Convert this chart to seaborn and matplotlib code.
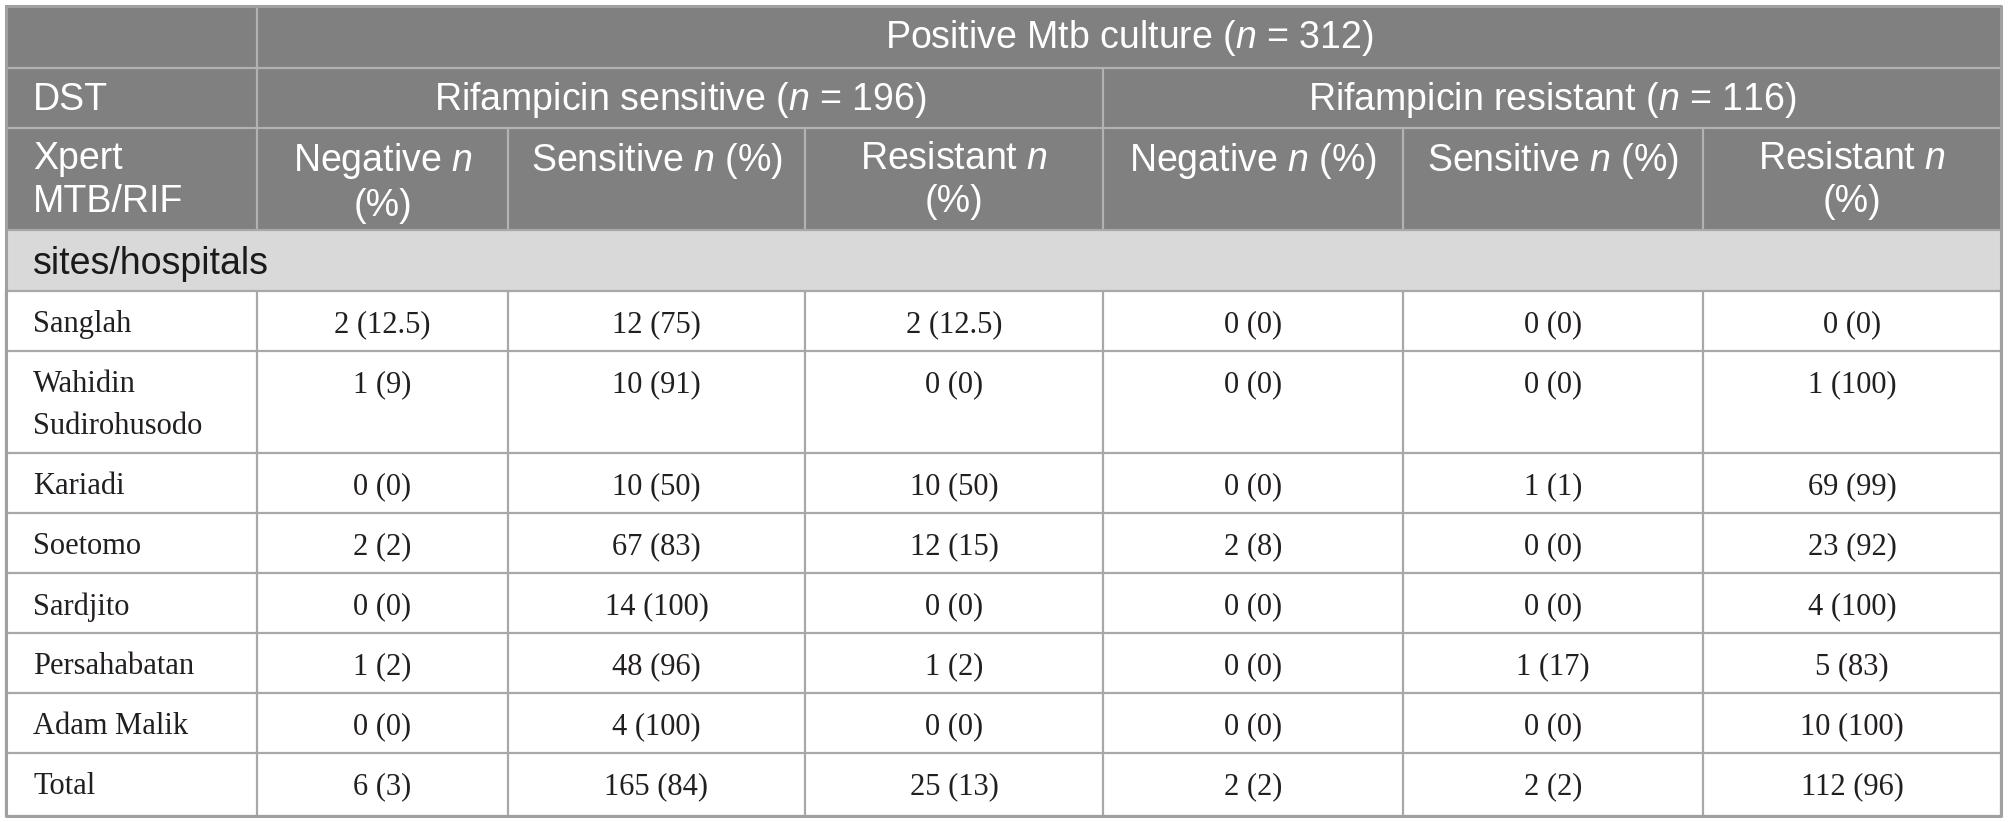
import matplotlib
matplotlib.use("Agg")
import matplotlib.pyplot as plt
from matplotlib.patches import Rectangle
import seaborn as sns

# ---------------- data ----------------
sites = ["Sanglah", "Wahidin\nSudirohusodo", "Kariadi", "Soetomo", "Sardjito",
         "Persahabatan", "Adam Malik", "Total"]
neg_s_n = [2, 1, 0, 2, 0, 1, 0, 6]
neg_s_p = [12.5, 9, 0, 2, 0, 2, 0, 3]
sen_s_n = [12, 10, 10, 67, 14, 48, 4, 165]
sen_s_p = [75, 91, 50, 83, 100, 96, 100, 84]
res_s_n = [2, 0, 10, 12, 0, 1, 0, 25]
res_s_p = [12.5, 0, 50, 15, 0, 2, 0, 13]
neg_r_n = [0, 0, 0, 2, 0, 0, 0, 2]
neg_r_p = [0, 0, 0, 8, 0, 0, 0, 2]
sen_r_n = [0, 0, 1, 0, 0, 1, 0, 2]
sen_r_p = [0, 0, 1, 0, 0, 17, 0, 2]
res_r_n = [0, 1, 69, 23, 4, 5, 10, 112]
res_r_p = [0, 100, 99, 92, 100, 83, 100, 96]

top_header = r"Positive Mtb culture ($\mathit{n}$ = 312)"
group_headers = [r"Rifampicin sensitive ($\mathit{n}$ = 196)",
                 r"Rifampicin resistant ($\mathit{n}$ = 116)"]
col_headers = [r"Negative $\mathit{n}$" + "\n(%)", r"Sensitive $\mathit{n}$ (%)",
               r"Resistant $\mathit{n}$" + "\n(%)", r"Negative $\mathit{n}$ (%)",
               r"Sensitive $\mathit{n}$ (%)", r"Resistant $\mathit{n}$" + "\n(%)"]
row_label_dst = "DST"
row_label_xpert = "Xpert\nMTB/RIF"
section_label = "sites/hospitals"

# ---------------- style ----------------
sns.set_theme(style="white")
head_font = "Liberation Sans"
body_font = "Liberation Serif"
plt.rcParams["font.family"] = [head_font, "DejaVu Sans"]
plt.rcParams["mathtext.fontset"] = "custom"
plt.rcParams["mathtext.rm"] = head_font
plt.rcParams["mathtext.it"] = head_font + ":italic"

W, H = 2009, 822
fig = plt.figure(figsize=(W / 100, H / 100), dpi=100)
ax = fig.add_axes([0, 0, 1, 1])
ax.set_xlim(0, W)
ax.set_ylim(H, 0)
ax.axis("off")

cols = [6, 257, 508, 805, 1103, 1403, 1703, 2001]
hrows = [6, 68, 128, 230, 291]
brows = [291, 351, 453, 513, 573, 633, 693, 753, 816]

HEAD_BG = "#808080"
SUB_BG = "#d9d9d9"
HEAD_LINE = "#b2b2b2"
BODY_LINE = "#a8a8a8"
TXT = "#231f20"
HS = 27
BS = 22
lw = 1.6

ax.add_patch(Rectangle((cols[0], hrows[0]), cols[-1] - cols[0], hrows[3] - hrows[0],
                       facecolor=HEAD_BG, edgecolor="none"))
ax.add_patch(Rectangle((cols[0], hrows[3]), cols[-1] - cols[0], hrows[4] - hrows[3],
                       facecolor=SUB_BG, edgecolor="none"))

# header lines
ax.plot([cols[1], cols[1]], [hrows[0], hrows[3]], color=HEAD_LINE, lw=lw)
ax.plot([cols[4], cols[4]], [hrows[1], hrows[3]], color=HEAD_LINE, lw=lw)
for c in [cols[2], cols[3], cols[5], cols[6]]:
    ax.plot([c, c], [hrows[2], hrows[3]], color=HEAD_LINE, lw=lw)
for r in hrows[1:3]:
    ax.plot([cols[0], cols[-1]], [r, r], color=HEAD_LINE, lw=lw)
ax.plot([cols[0], cols[-1]], [hrows[3], hrows[3]], color=BODY_LINE, lw=lw)
# body lines
for r in brows:
    ax.plot([cols[0], cols[-1]], [r, r], color=BODY_LINE, lw=lw)
for c in cols:
    ax.plot([c, c], [brows[0], brows[-1]], color=BODY_LINE, lw=lw)
# outer border
ax.plot([cols[0], cols[-1], cols[-1], cols[0], cols[0]],
        [hrows[0], hrows[0], brows[-1], brows[-1], hrows[0]], color="#a0a0a0", lw=2.2)

OFF = 32
LS = 1.25
mid = lambda a, b: (a + b) / 2

# header text
ax.text(mid(cols[1], cols[-1]), hrows[0] + OFF, top_header, ha="center", va="center",
        color="white", fontsize=HS)
ax.text(mid(cols[1], cols[4]), hrows[1] + OFF, group_headers[0], ha="center", va="center",
        color="white", fontsize=HS)
ax.text(mid(cols[4], cols[-1]), hrows[1] + OFF, group_headers[1], ha="center", va="center",
        color="white", fontsize=HS)
ax.text(cols[0] + 27, hrows[1] + OFF, row_label_dst, ha="left", va="center",
        color="white", fontsize=HS)
ax.text(cols[0] + 27, hrows[2] + 13, row_label_xpert, ha="left", va="top",
        color="white", fontsize=HS, linespacing=LS)
for i, t in enumerate(col_headers):
    ax.text(mid(cols[i + 1], cols[i + 2]), hrows[2] + 13, t, ha="center", va="top",
            color="white", fontsize=HS, linespacing=LS, multialignment="center")
ax.text(cols[0] + 27, hrows[3] + OFF + 2, section_label, ha="left", va="center",
        color="#1a1a1a", fontsize=HS)

# body text
series = [(neg_s_n, neg_s_p), (sen_s_n, sen_s_p), (res_s_n, res_s_p),
          (neg_r_n, neg_r_p), (sen_r_n, sen_r_p), (res_r_n, res_r_p)]
for r, site in enumerate(sites):
    top = brows[r]
    ax.text(cols[0] + 27, top + 19, site, ha="left", va="top", color=TXT,
            fontsize=BS, family=body_font, linespacing=1.6)
    for c, (nn, pp) in enumerate(series):
        s = f"{nn[r]} ({pp[r]:g})"
        ax.text(mid(cols[c + 1], cols[c + 2]), top + 19, s, ha="center", va="top",
                color=TXT, fontsize=BS, family=body_font)

fig.savefig("out.png", dpi=100, facecolor="white")
